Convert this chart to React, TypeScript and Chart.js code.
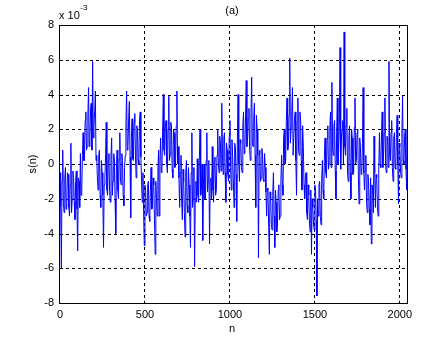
import React, { useEffect, useRef } from 'react';
import { Chart, registerables } from 'chart.js';

Chart.register(...registerables);

// Signal s(n), in units of 1e-3, one value every `sampleStep` samples
const sampleStep = 4;
const signalValues: number[] = [
  -0.5, -2.4, -6.0, -1.0, 0.8, -2.2, -2.8, -0.8, -0.2, -2.6, -2.2, -0.5, -0.6, -2.5, -3.0, -1.2,
  1.2, -2.8, -2.0, -0.4, -0.8, -2.2, -3.2, -1.0, -0.4, -2.6, -5.0, -0.8, -1.0, -2.5, 0.6, -1.8,
  -1.5, 0.5, 1.8, 0.2, 0.2, 2.5, 3.0, 0.8, 1.0, 2.8, 4.4, 1.0, 1.5, 3.2, 3.5, 0.8,
  5.9, 1.5, 2.2, 3.0, 4.2, 0.2, 0.5, -0.8, -1.5, 0.5, 0.8, -1.8, -2.5, 0.2, -0.5, -1.8,
  -4.8, -1.2, -0.8, 0.4, 2.4, -1.5, -1.8, 0.2, 0.6, -1.6, -2.2, 0.5, 1.5, -1.8, -1.0, 0.6,
  0.3, -2.0, -4.0, -0.3, 0.8, -1.5, -2.0, 0.3, 1.8, -1.0, -1.2, 0.6, 0.2, -1.8, -2.4, -0.2,
  0.5, 2.2, 4.2, 0.8, 1.0, 2.6, 3.6, 0.4, -3.1, 1.5, 2.6, 0.3, 0.2, 2.4, 2.9, 0.5,
  -0.8, 2.2, 2.0, 0.2, 0.0, 2.5, 3.0, 0.4, -1.0, -2.2, -0.5, -2.8, -4.7, -1.2, -1.5, -3.0,
  -2.8, -1.2, -1.0, -3.0, -3.3, -1.5, -0.2, -2.6, -2.5, -0.8, -1.2, -3.2, -5.2, -1.0, -2.0, -3.0,
  -0.5, 0.8, -3.0, 0.2, 1.5, -0.5, -0.3, 2.0, 4.0, 0.8, 0.5, 2.2, 2.5, 0.0, -0.5, 2.0,
  3.9, 0.2, 0.5, 2.4, 2.2, -0.3, -0.8, 2.0, 1.8, -0.2, 0.0, 2.2, 4.2, 0.0, 1.0, -0.8,
  -2.5, -0.5, 0.5, -2.2, -3.2, -0.3, -1.0, -2.8, -4.2, -0.5, 0.2, -2.4, -2.8, -0.2, -1.2, -3.0,
  -4.8, -0.5, 1.8, -2.5, -2.0, -0.2, -5.9, -2.0, -1.0, -2.2, 0.3, -1.8, -2.2, 0.2, 2.0, -1.8,
  -1.5, 0.0, -4.4, -1.2, 0.0, -2.0, -2.0, 0.2, 1.8, -1.6, -1.0, 0.2, -4.6, -1.0, -0.8, -2.0,
  1.0, -1.5, -2.2, 0.2, 0.4, -1.8, -1.5, 0.5, 2.0, 0.0, -0.5, 1.6, 1.2, -0.4, 3.5, 0.6,
  -0.6, 1.5, 1.8, -0.5, -2.2, 1.2, 0.8, -0.6, -1.0, 1.6, 2.5, -0.2, -1.5, 1.4, 0.5, -0.8,
  -2.5, 1.2, 1.0, -0.6, -3.3, 1.5, 4.0, 0.0, -1.0, 1.4, 1.2, -0.2, -0.5, 2.2, 3.0, 0.6,
  0.8, 2.8, 4.8, 1.0, 1.5, 2.6, 3.2, 0.8, 0.2, 2.9, 5.0, 1.2, 1.0, 2.6, 3.5, 0.5,
  -2.5, 2.8, 2.0, 0.5, -5.4, 0.6, 0.8, -1.0, -0.8, 0.9, 0.5, -0.9, -1.0, 0.6, -0.2, -1.6,
  -3.0, -1.4, -1.5, -3.6, -5.2, -1.6, -2.0, -3.5, -3.8, -1.8, -0.5, -3.0, -4.8, -1.5, -2.2, -3.9,
  -3.5, -1.5, -1.2, -3.2, -3.0, -1.0, 0.5, -1.2, -1.8, 1.5, 2.0, 0.0, 0.2, 2.5, 3.8, 0.8,
  1.0, 2.8, 6.1, 1.2, 2.0, 3.0, 4.4, 0.5, 0.5, 2.6, 3.0, 0.2, -1.8, 2.4, 3.8, 0.8,
  0.5, 3.0, 2.5, 0.2, -1.5, 2.2, 1.0, -1.2, -2.0, -0.8, -0.5, -2.8, -3.2, -1.2, -1.8, -3.4,
  -3.9, -1.5, -5.2, -2.0, -2.5, -3.5, -3.8, -1.2, -1.5, -3.2, -7.6, -2.0, -3.0, -1.2, -1.0, -3.0,
  -3.5, -1.0, 0.2, -1.5, -2.0, 0.5, 1.5, -0.5, -0.8, 1.5, 2.2, -0.3, 0.0, 2.0, 3.0, -0.2,
  4.7, 1.0, 0.5, 2.2, 2.5, -0.4, -2.0, 1.8, 3.8, 0.0, 0.8, 2.2, 6.7, -0.3, 1.5, 2.0,
  2.5, 0.0, 7.6, 1.0, 0.5, 2.2, 3.2, -0.4, -1.0, 1.6, 2.2, -0.5, -2.0, 2.0, 1.5, -0.6,
  -0.5, 2.1, 3.8, 0.0, 0.2, 1.8, 2.0, -0.8, -2.3, 1.5, 1.0, -0.6, -0.5, 1.2, 4.4, -0.5,
  -1.5, -0.4, 0.5, -2.2, -2.8, -0.6, -1.0, -2.6, -3.5, -0.8, -4.6, -1.2, -1.5, -2.8, 1.6, -0.5,
  -2.5, -0.6, -0.8, -2.4, -3.0, -0.3, 1.8, 0.0, -0.2, 1.6, 3.0, -0.2, 0.5, 1.8, 3.8, 0.0,
  -0.5, 1.6, 1.5, -0.2, 5.9, 0.5, 0.2, 1.8, 2.5, -0.2, -1.0, 1.5, 1.8, -0.2, -0.3, 1.7,
  2.8, 0.0, -2.3, 1.2, 1.0, -0.4, -0.8, 1.8, 3.9, 0.2, 0.0, 1.6, 2.0, -0.3, -1.5, 1.0,
];

const xTickValues = [0, 500, 1000, 1500, 2000];
const yTickValues = [-8, -6, -4, -2, 0, 2, 4, 6, 8];
const xMax = 2048;
const titleText = '(a)';
const xLabelText = 'n';
const yLabelText = 's(n)';
const scaleBase = 'x 10';
const scaleExp = '-3';

const FONT = '"Liberation Sans", Arial, Helvetica, sans-serif';

export default function App() {
  const ref = useRef<HTMLCanvasElement>(null);

  useEffect(() => {
    document.body.style.margin = '0';
    const canvas = ref.current;
    if (!canvas) return;

    const points = signalValues.map((v, i) => ({ x: i * sampleStep, y: v }));

    const decor = {
      id: 'matlabDecor',
      beforeDatasetsDraw(chart: any) {
        const { ctx, chartArea: a, scales } = chart;
        ctx.save();
        ctx.strokeStyle = '#000';
        ctx.lineWidth = 1;
        ctx.setLineDash([3, 3]);
        ctx.beginPath();
        for (const v of xTickValues) {
          const px = Math.round(scales.x.getPixelForValue(v)) - 0.5;
          ctx.moveTo(px, a.top);
          ctx.lineTo(px, a.bottom);
        }
        for (const v of yTickValues) {
          const py = Math.round(scales.y.getPixelForValue(v)) + 0.5;
          ctx.moveTo(a.left, py);
          ctx.lineTo(a.right, py);
        }
        ctx.stroke();
        ctx.restore();
      },
      afterDatasetsDraw(chart: any) {
        const { ctx, chartArea: a } = chart;
        ctx.save();
        ctx.strokeStyle = '#000';
        ctx.lineWidth = 1;
        ctx.setLineDash([]);
        const l = Math.round(a.left) - 0.5;
        const t = Math.round(a.top) + 0.5;
        const r = Math.round(a.right) - 0.5;
        const b = Math.round(a.bottom) + 0.5;
        ctx.strokeRect(l, t, r - l, b - t);

        ctx.fillStyle = '#000';
        ctx.font = `11px ${FONT}`;
        ctx.textAlign = 'center';
        ctx.textBaseline = 'middle';
        ctx.fillText(titleText, 232, 11);
        ctx.fillText(xLabelText, 232, 329);
        ctx.save();
        ctx.translate(33, 164);
        ctx.rotate(-Math.PI / 2);
        ctx.fillText(yLabelText, 0, 0);
        ctx.restore();

        ctx.textAlign = 'left';
        ctx.textBaseline = 'alphabetic';
        ctx.font = `11px ${FONT}`;
        ctx.fillText(scaleBase, 59, 19);
        const w = ctx.measureText(scaleBase).width;
        ctx.font = `8px ${FONT}`;
        ctx.fillText(scaleExp, 59 + w + 0.5, 10);
        ctx.restore();
      },
    };

    const chart = new Chart(canvas, {
      type: 'line',
      data: {
        datasets: [
          {
            data: points,
            borderColor: '#0000ff',
            borderWidth: 1,
            pointRadius: 0,
            tension: 0,
            fill: false,
          },
        ],
      },
      options: {
        animation: false,
        responsive: false,
        maintainAspectRatio: false,
        devicePixelRatio: 1,
        layout: { padding: { top: 25, right: 40, left: 0, bottom: 0 } },
        plugins: {
          legend: { display: false },
          tooltip: { enabled: false },
          title: { display: false },
        },
        scales: {
          x: {
            type: 'linear',
            min: 0,
            max: xMax,
            grid: { display: false, drawTicks: false },
            border: { display: false },
            afterBuildTicks: (axis: any) => {
              axis.ticks = xTickValues.map((v) => ({ value: v }));
            },
            afterFit: (axis: any) => {
              axis.height = 37;
            },
            ticks: {
              color: '#000',
              font: { family: FONT, size: 11 },
              padding: 5,
              maxRotation: 0,
              autoSkip: false,
              callback: (v: any) => String(v),
            },
          },
          y: {
            type: 'linear',
            min: -8,
            max: 8,
            grid: { display: false, drawTicks: false },
            border: { display: false },
            afterBuildTicks: (axis: any) => {
              axis.ticks = yTickValues.map((v) => ({ value: v }));
            },
            afterFit: (axis: any) => {
              axis.width = 60;
            },
            ticks: {
              color: '#000',
              font: { family: FONT, size: 11 },
              padding: 6,
              autoSkip: false,
              callback: (v: any) => String(v),
            },
          },
        },
      },
      plugins: [decor],
    });

    return () => chart.destroy();
  }, []);

  return (
    <div style={{ width: 448, height: 340, background: '#fff' }}>
      <canvas ref={ref} width={448} height={340} style={{ display: 'block' }} />
    </div>
  );
}
